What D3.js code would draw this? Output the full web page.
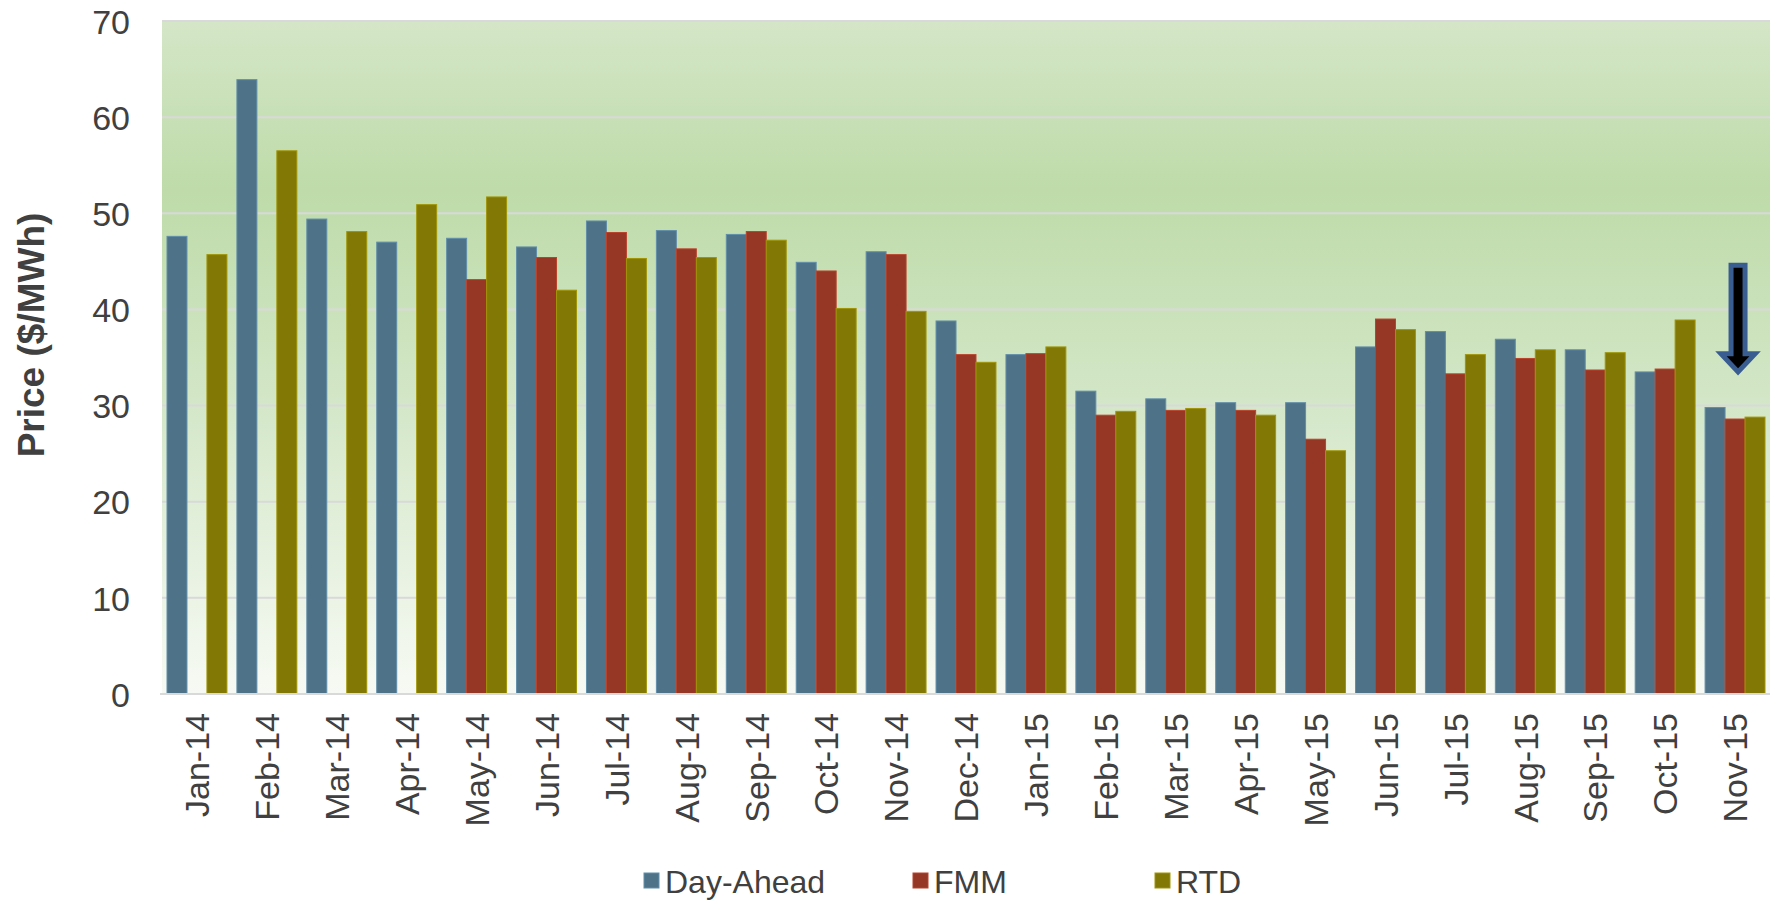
<!DOCTYPE html>
<html>
<head>
<meta charset="utf-8">
<script src="https://cdn.jsdelivr.net/npm/d3@7"></script>
<style>
    html, body { margin: 0; padding: 0; background: #fff; overflow: hidden; }
    svg { display: block; }
    text { font-family: Arial, "Liberation Sans", sans-serif; fill: #404040; }
</style>
</head>
<body>
<div id="chart"></div>
<script>
const months = ["Jan-14", "Feb-14", "Mar-14", "Apr-14", "May-14", "Jun-14", "Jul-14", "Aug-14",
    "Sep-14", "Oct-14", "Nov-14", "Dec-14", "Jan-15", "Feb-15", "Mar-15", "Apr-15", "May-15",
    "Jun-15", "Jul-15", "Aug-15", "Sep-15", "Oct-15", "Nov-15"];

const dayAhead = [47.6, 63.9, 49.4, 47.0, 47.4, 46.5, 49.2, 48.2, 47.8, 44.9, 46.0, 38.8,
    35.3, 31.5, 30.7, 30.3, 30.3, 36.1, 37.7, 36.9, 35.8, 33.5, 29.8];
const fmm = [null, null, null, null, 43.1, 45.4, 48.0, 46.3, 48.1, 44.0, 45.7, 35.3,
    35.4, 29.0, 29.5, 29.5, 26.5, 39.0, 33.3, 34.9, 33.7, 33.8, 28.6];
const rtd = [45.7, 56.5, 48.1, 50.9, 51.7, 42.0, 45.3, 45.4, 47.2, 40.1, 39.8, 34.5,
    36.1, 29.4, 29.7, 29.0, 25.3, 37.9, 35.3, 35.8, 35.5, 38.9, 28.8];

const seriesNames = ["Day-Ahead", "FMM", "RTD"];
const yTicks = [0, 10, 20, 30, 40, 50, 60, 70];
const yTitle = "Price ($/MWh)";

// arrow annotation on the last month (from / to price)
const arrowMonth = "Nov-15";
const arrowFrom = 44.6, arrowTo = 33.3;

const width = 1777, height = 907;
const margin = { left: 162, right: 7, top: 21, bottom: 213 };
const innerWidth = width - margin.left - margin.right,
    innerHeight = height - margin.top - margin.bottom;

const color = d3.scaleOrdinal()
    .domain(seriesNames)
    .range(["#4e7389", "#963624", "#827805"]);

const rows = months.map((m, i) => ({
    month: m,
    values: [dayAhead[i], fmm[i], rtd[i]]
}));

const svg = d3.select("#chart").append("svg")
    .attr("width", width)
    .attr("height", height);

const defs = svg.append("defs");
const grad = defs.append("linearGradient")
    .attr("id", "bg")
    .attr("x1", 0).attr("y1", 0).attr("x2", 0).attr("y2", 1);
grad.append("stop").attr("offset", "0%").attr("stop-color", "#d4e6c7");
grad.append("stop").attr("offset", "25%").attr("stop-color", "#bedba9");
grad.append("stop").attr("offset", "55%").attr("stop-color", "#d2e6c6");
grad.append("stop").attr("offset", "100%").attr("stop-color", "#f7faf4");

const g = svg.append("g")
    .attr("transform", "translate(" + margin.left + "," + margin.top + ")");

// Scales
const xScale = d3.scaleBand()
    .domain(months)
    .range([0, innerWidth])
    .paddingInner(0.143)
    .paddingOuter(0.0715);

const xInner = d3.scaleBand()
    .domain(seriesNames)
    .range([0, xScale.bandwidth()]);

const yScale = d3.scaleLinear()
    .domain([0, 70])
    .range([innerHeight, 0]);

// plot background
g.append("rect")
    .attr("width", innerWidth)
    .attr("height", innerHeight)
    .attr("fill", "url(#bg)");

// gridlines
g.append("g")
    .selectAll("line")
    .data(yTicks)
    .enter().append("line")
    .attr("x1", 0)
    .attr("x2", innerWidth)
    .attr("y1", d => yScale(d))
    .attr("y2", d => yScale(d))
    .attr("stroke", "#d9d9d9")
    .attr("stroke-width", 2);

// y axis
const yAxis = g.append("g")
    .attr("class", "y axis")
    .call(d3.axisLeft(yScale).tickValues(yTicks).tickSize(0).tickPadding(32));
yAxis.select(".domain").remove();
yAxis.selectAll("text")
    .style("font-size", "34px")
    .attr("fill", "#404040")
    .attr("dy", "0.36em");

// x axis
const xAxis = g.append("g")
    .attr("class", "x axis")
    .attr("transform", "translate(0," + innerHeight + ")")
    .call(d3.axisBottom(xScale).tickSize(0));
xAxis.select(".domain").remove();
xAxis.selectAll("text")
    .style("font-size", "34px")
    .attr("fill", "#404040")
    .attr("transform", "rotate(-90)")
    .attr("text-anchor", "end")
    .attr("x", -19)
    .attr("y", 0)
    .attr("dy", "0.36em");

// y title
svg.append("text")
    .attr("transform", "translate(44,335) rotate(-90)")
    .attr("text-anchor", "middle")
    .style("font-size", "37px")
    .style("font-weight", "bold")
    .text(yTitle);

// bars
const month = g.selectAll(".month")
    .data(rows)
    .enter().append("g")
    .attr("class", "month")
    .attr("transform", d => "translate(" + xScale(d.month) + ",0)");

month.selectAll("rect")
    .data(d => d.values.map((v, i) => ({ key: seriesNames[i], value: v })).filter(d => d.value != null))
    .enter().append("rect")
    .attr("x", d => xInner(d.key))
    .attr("y", d => yScale(d.value))
    .attr("width", xInner.bandwidth())
    .attr("height", d => innerHeight - yScale(d.value))
    .attr("fill", d => color(d.key))
    .attr("stroke", d => d3.color(color(d.key)).brighter(0.6))
    .attr("stroke-width", 1);

// baseline
g.append("line")
    .attr("x1", -2)
    .attr("x2", innerWidth)
    .attr("y1", innerHeight)
    .attr("y2", innerHeight)
    .attr("stroke", "#d9d9d9")
    .attr("stroke-width", 2);

// arrow
const ax = xScale(arrowMonth) + xScale.bandwidth() / 2 + 3,
    yTop = yScale(arrowFrom),
    yTip = yScale(arrowTo),
    yHead = yTip - 20;
const arrowPath = d3.path();
arrowPath.moveTo(ax - 7, yTop);
arrowPath.lineTo(ax + 7, yTop);
arrowPath.lineTo(ax + 7, yHead);
arrowPath.lineTo(ax + 17, yHead);
arrowPath.lineTo(ax, yTip - 2);
arrowPath.lineTo(ax - 17, yHead);
arrowPath.lineTo(ax - 7, yHead);
arrowPath.closePath();
g.append("path")
    .attr("d", arrowPath.toString())
    .attr("fill", "#000")
    .attr("stroke", "#3a5d91")
    .attr("stroke-width", 5)
    .attr("stroke-linejoin", "miter");

// legend
const legendX = [644, 913, 1155];
const legend = svg.append("g")
    .attr("transform", "translate(0,881)");

seriesNames.forEach(function(d, i) {
    let legendRow = legend.append("g")
        .attr("transform", "translate(" + legendX[i] + ",0)");

    legendRow.append("rect")
        .attr("y", -8)
        .attr("width", 15)
        .attr("height", 15)
        .attr("fill", color(d))
        .attr("stroke", d3.color(color(d)).brighter(0.6));

    legendRow.append("text")
        .attr("x", 21)
        .attr("y", 0)
        .attr("dy", "0.36em")
        .style("font-size", "32px")
        .text(d);
});
</script>
</body>
</html>
